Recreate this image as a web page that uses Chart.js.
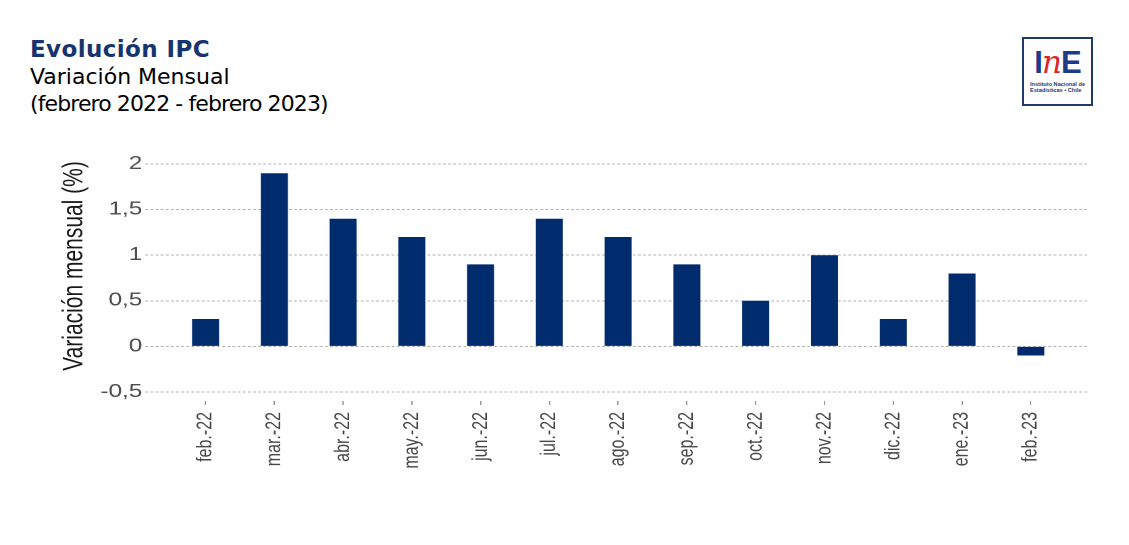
<!DOCTYPE html>
<html>
<head>
<meta charset="utf-8">
<script src="https://cdn.jsdelivr.net/npm/chart.js@4.4.1/dist/chart.umd.min.js"></script>
<style>
  html, body { margin: 0; padding: 0; background: #ffffff; }
  body { width: 1129px; height: 545px; position: relative; overflow: hidden; }
  #head { position: absolute; left: 30px; top: 36px; font-family: "DejaVu Sans", sans-serif; font-size: 22px; line-height: 27px; color: #000; white-space: nowrap; }
  #head .t { font-weight: bold; color: #163470; font-size: 23px; letter-spacing: 0.4px; }
  #head .d { letter-spacing: -0.9px; }
  #logo { position: absolute; left: 1022px; top: 37px; width: 67px; height: 65px; border: 2px solid #1f3a6f; background: #fff; }
  #logo .ine { position: absolute; left: 0; top: 8px; width: 67px; text-align: center; font-family: "Liberation Sans", Arial, sans-serif; font-weight: bold; font-size: 31px; line-height: 31px; letter-spacing: -1px; }
  #logo .ine .b { color: #1f3a8a; }
  #logo .ine .r { color: #d7262e; font-style: italic; font-weight: normal; font-family: "DejaVu Serif", serif; }
  #logo .small { position: absolute; left: 6px; top: 42px; width: 62px; font-family: "Liberation Sans", Arial, sans-serif; font-weight: bold; font-size: 5.6px; line-height: 6px; color: #1f3a6f; white-space: nowrap; }
  #wrap { position: absolute; left: 0; top: 0; width: 836px; height: 545px; transform: scaleX(1.3505); transform-origin: 0 0; }
</style>
</head>
<body>
<div id="head">
  <div class="t">Evolución IPC</div>
  <div>Variación Mensual</div>
  <div class="d">(febrero 2022 - febrero 2023)</div>
</div>
<div id="logo">
  <div class="ine"><span class="b">I</span><span class="r">n</span><span class="b">E</span></div>
  <div class="small">Instituto Nacional de<br>Estadísticas • Chile</div>
</div>
<div id="wrap"><canvas id="c" width="836" height="545"></canvas></div>
<script>
const categories = ['feb.-22','mar.-22','abr.-22','may.-22','jun.-22','jul.-22','ago.-22','sep.-22','oct.-22','nov.-22','dic.-22','ene.-23','feb.-23'];
const variacionMensual = [0.3, 1.9, 1.4, 1.2, 0.9, 1.4, 1.2, 0.9, 0.5, 1.0, 0.3, 0.8, -0.1];
const yTickValues = [-0.5, 0, 0.5, 1, 1.5, 2];
const yTickLabels = ['-0,5', '0', '0,5', '1', '1,5', '2'];
const yAxisTitle = 'Variación mensual (%)';

const yTitlePlugin = {
  id: 'yTitle',
  afterDraw(chart) {
    const c = chart.ctx;
    c.save();
    c.translate(55, 266);
    c.rotate(-Math.PI / 2);
    c.font = '21px "Liberation Sans", Arial, sans-serif';
    c.fillStyle = '#1a1a1a';
    c.textAlign = 'center';
    c.textBaseline = 'middle';
    c.fillText(yAxisTitle, 0, 0);
    c.restore();
  }
};

new Chart(document.getElementById('c'), {
  type: 'bar',
  data: {
    datasets: [{
      data: categories.map((c, i) => ({ x: i, y: variacionMensual[i] })),
      backgroundColor: '#002c6e',
      borderWidth: 0,
      barPercentage: 0.393,
      categoryPercentage: 1
    }]
  },
  plugins: [yTitlePlugin],
  options: {
    responsive: false,
    animation: false,
    devicePixelRatio: 2,
    layout: { padding: { left: 0, top: 155, right: 31, bottom: 0 } },
    plugins: { legend: { display: false }, tooltip: { enabled: false }, title: { display: false } },
    scales: {
      x: {
        type: 'linear',
        offset: false,
        min: -0.88,
        max: 12.82,
        afterBuildTicks: (s) => { s.ticks = categories.map((c, i) => ({ value: i })); },
        afterFit: (s) => { s.height = 144; },
        ticks: {
          autoSkip: false,
          minRotation: 90,
          maxRotation: 90,
          padding: 7,
          color: '#474747',
          font: { family: '"Liberation Sans", Arial, sans-serif', size: 16 },
          callback: (v) => categories[v]
        },
        grid: { display: true, offset: false, drawOnChartArea: false, drawTicks: true, tickLength: 4, tickColor: '#999999', tickWidth: 1 },
        border: { display: false }
      },
      y: {
        min: -0.6,
        max: 2.1,
        afterBuildTicks: (s) => { s.ticks = yTickValues.map(v => ({ value: v })); },
        afterFit: (s) => { s.width = 107.4; },
        ticks: {
          padding: 2,
          color: '#4d4d4d',
          font: { family: '"Liberation Sans", Arial, sans-serif', size: 18 },
          callback: (v, i) => yTickLabels[i]
        },
        grid: { color: '#b3b3b3', lineWidth: 1, drawTicks: false },
        border: { display: false, dash: [2.2, 1.6] }
      }
    }
  }
});
</script>
</body>
</html>
